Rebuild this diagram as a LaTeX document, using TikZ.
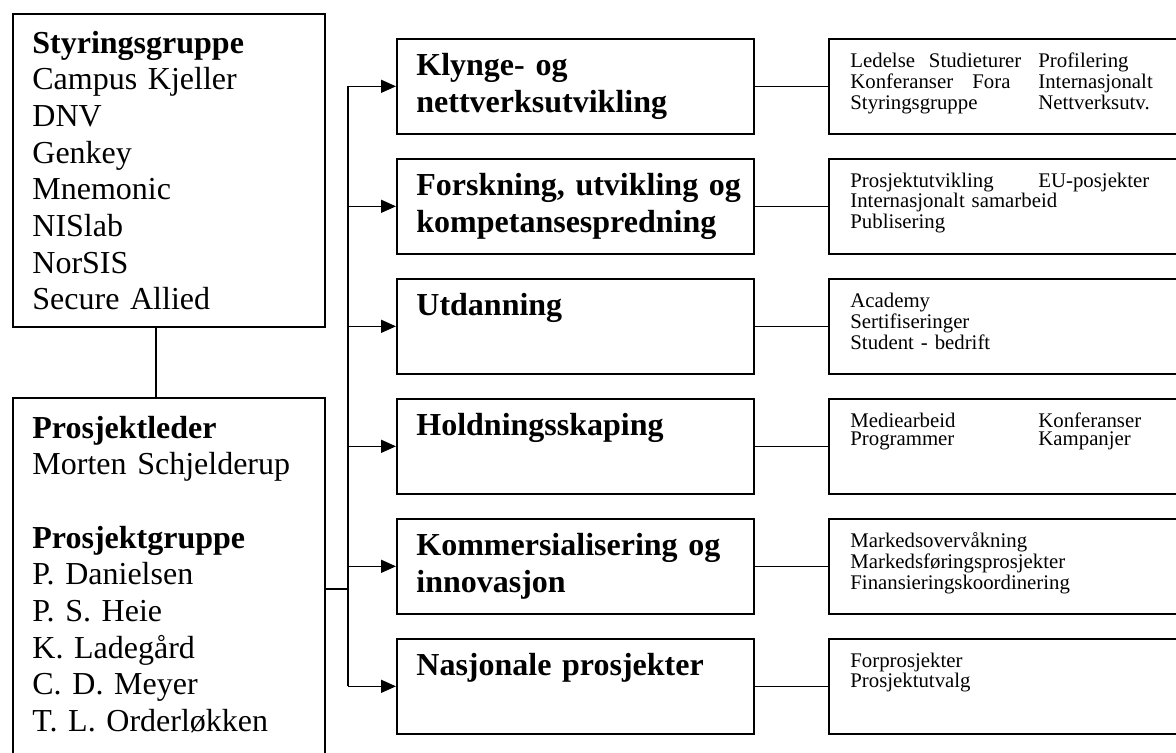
\documentclass[tikz,border=0pt]{standalone}
\usepackage{fontspec}
\setmainfont{Liberation Serif}
\usetikzlibrary{arrows.meta, positioning, calc}

\begin{document}
\begin{tikzpicture}[x=0.5pt, y=-0.5pt,
  grpbox/.style={draw, line width=0.8pt, minimum width=156pt, anchor=north west, inner sep=0pt},
  areabox/.style={draw, line width=0.8pt, minimum width=178.5pt, minimum height=47.5pt, anchor=north west, inner sep=0pt},
  taskbox/.style={draw, line width=0.8pt, minimum width=180pt, minimum height=47.5pt, anchor=north west, inner sep=0pt},
  grptext/.style={anchor=base west, inner sep=0pt, text width=150pt, align=left, font=\fontsize{16pt}{18.35pt}\selectfont},
  areatext/.style={anchor=base west, inner sep=0pt, text width=170pt, align=left, font=\fontsize{16pt}{18.5pt}\selectfont\bfseries},
  tasktext/.style={anchor=base west, inner sep=0pt, text width=160pt, align=left, font=\fontsize{10.4pt}{9.3pt}\selectfont},
  line/.style={line width=0.8pt},
  arrow/.style={-{Triangle[length=7.5pt, width=6.5pt]}, line width=0.8pt}
]
  \clip (0,0) rectangle (1176,752);

  % Groups
  \node[grpbox, minimum height=156.5pt] (styr) at (12,13) {};
  \node[grptext] (styrtxt) at (32,53) {\textbf{Styringsgruppe}\\Campus Kjeller\\DNV\\Genkey\\Mnemonic\\NISlab\\NorSIS\\Secure Allied};
  \node[grpbox, minimum height=200pt] (prosj) at (12,397) {};
  \node[grptext] (prosjtxt) at (32,438) {\textbf{Prosjektleder}\\Morten Schjelderup\\[18.35pt]\textbf{Prosjektgruppe}\\P. Danielsen\\P. S. Heie\\K. Lade\-gård\\C. D. Meyer\\T. L. Orderløkken};

  % Areas
  \node[areabox] (klynge) at (396,38) {};
  \node[areatext] (klyngetxt) at (416,75) {Klynge- og\\nettverksutvikling};
  \node[areabox] (forsk) at (396,158) {};
  \node[areatext] (forsktxt) at (416,195) {Forskning, utvikling og\\kompetansespredning};
  \node[areabox] (utdann) at (396,278) {};
  \node[areatext] (utdanntxt) at (416,315) {Utdanning};
  \node[areabox] (holdn) at (396,398) {};
  \node[areatext] (holdntxt) at (416,435) {Holdningsskaping};
  \node[areabox] (komm) at (396,518) {};
  \node[areatext] (kommtxt) at (416,555) {Kommersialisering og\\innovasjon};
  \node[areabox] (nasj) at (396,638) {};
  \node[areatext] (nasjtxt) at (416,675) {Nasjonale prosjekter};

  % Tasks
  \node[taskbox] (klyngetask) at (828,38) {};
  \node[tasktext] (klyngetasktxt) at (850,67) {\makebox[94pt][l]{Ledelse\ \ Studieturer}Profilering\\\makebox[61pt][l]{Konferanser}\makebox[33pt][l]{Fora}Internasjonalt\\\makebox[94pt][l]{Styringsgruppe}Nettverksutv.};
  \node[taskbox] (forsktask) at (828,158) {};
  \node[tasktext] (forsktasktxt) at (850,187) {\makebox[94pt][l]{Prosjektutvikling}EU-posjekter\\Internasjonalt samarbeid\\Publisering};
  \node[taskbox] (utdanntask) at (828,278) {};
  \node[tasktext] (utdanntasktxt) at (850,307) {Academy\\Sertifiseringer\\Student - bedrift};
  \node[taskbox] (holdntask) at (828,398) {};
  \node[tasktext] (holdntasktxt) at (850,427) {\makebox[94pt][l]{Mediearbeid}Konferanser\\\makebox[94pt][l]{Programmer}Kampanjer};
  \node[taskbox] (kommtask) at (828,518) {};
  \node[tasktext] (kommtasktxt) at (850,547) {Markedsovervåkning\\Markedsføringsprosjekter\\Finansieringskoordinering};
  \node[taskbox] (nasjtask) at (828,638) {};
  \node[tasktext] (nasjtasktxt) at (850,667) {Forprosjekter\\Prosjektutvalg};

  % Connectors
  \coordinate (bus) at (348,589);
  \draw[line] ([xshift=72pt]styr.south west) -- ([xshift=72pt]prosj.north west);
  \draw[line] ([yshift=-96pt]prosj.north east) -- (bus);
  \draw[line] (bus |- klynge.west) -- (bus |- nasj.west);
  \draw[arrow] (bus |- klynge.west) -- (klynge.west);
  \draw[arrow] (bus |- forsk.west) -- (forsk.west);
  \draw[arrow] (bus |- utdann.west) -- (utdann.west);
  \draw[arrow] (bus |- holdn.west) -- (holdn.west);
  \draw[arrow] (bus |- komm.west) -- (komm.west);
  \draw[arrow] (bus |- nasj.west) -- (nasj.west);
  \draw[line] (klynge.east) -- (klyngetask.west);
  \draw[line] (forsk.east) -- (forsktask.west);
  \draw[line] (utdann.east) -- (utdanntask.west);
  \draw[line] (holdn.east) -- (holdntask.west);
  \draw[line] (komm.east) -- (kommtask.west);
  \draw[line] (nasj.east) -- (nasjtask.west);
\end{tikzpicture}
\end{document}
